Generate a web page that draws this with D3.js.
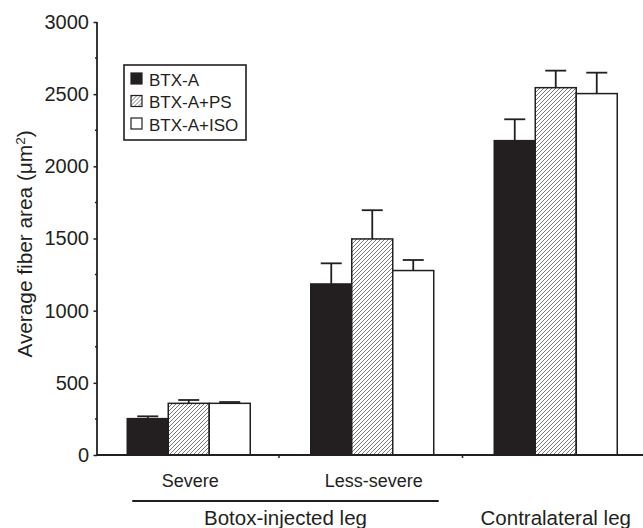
<!DOCTYPE html>
<html>
<head>
<meta charset="utf-8">
<script src="https://cdn.jsdelivr.net/npm/d3@7"></script>
<style>
  body { margin: 0; background: #fff; }
  text { font-family: "Liberation Sans", Arial, sans-serif; fill: #231f20; }
</style>
</head>
<body>
<div id="main"></div>
<script>
var groups = ["Severe", "Less-severe", "Contralateral"];
var groupLabels = ["Severe", "Less-severe", ""];
var series = ["BTX-A", "BTX-A+PS", "BTX-A+ISO"];
var means = [
  [252, 358, 358],     // Severe
  [1185, 1497, 1278],  // Less-severe
  [2178, 2545, 2504]   // Contralateral
];
var errors = [
  [16, 23, 9],
  [143, 199, 73],
  [148, 118, 145]
];
var yTicks = [0, 500, 1000, 1500, 2000, 2500, 3000];
var yMinorTicks = [250, 750, 1250, 1750, 2250, 2750];

var width = 643, height = 528;
var margin = {left: 97, top: 22, bottom: 73};
var ink = "#231f20";

var svg = d3.select("#main").append("svg")
    .attr("width", width)
    .attr("height", height);

// hatch pattern for BTX-A+PS
var defs = svg.append("defs");
var pat = defs.append("pattern")
    .attr("id", "hatch")
    .attr("patternUnits", "userSpaceOnUse")
    .attr("width", 4)
    .attr("height", 4);
pat.append("rect").attr("width", 4).attr("height", 4).attr("fill", "#fff");
pat.append("path")
    .attr("d", "M-1,1 l2,-2 M0,4 l4,-4 M3,5 l2,-2")
    .attr("stroke", "#666")
    .attr("stroke-width", 0.9);

var fills = ["#231f20", "url(#hatch)", "#fff"];

var y = d3.scaleLinear()
    .domain([0, 3000])
    .range([height - margin.bottom, margin.top]);

var x0 = d3.scaleBand()
    .domain(groups)
    .range([margin.left, margin.left + 3 * 183.5])
    .paddingInner(0)
    .paddingOuter(0);

var x1 = d3.scaleBand()
    .domain(series)
    .range([0, x0.bandwidth()])
    .paddingInner(0)
    .paddingOuter(0.738);

// bars
var g = svg.append("g");
groups.forEach(function(grp, gi) {
  series.forEach(function(s, si) {
    var xx = x0(grp) + x1(s);
    var v = means[gi][si], e = errors[gi][si];
    var cx = xx + x1.bandwidth() / 2;
    // error bar
    g.append("line")
        .attr("x1", cx).attr("x2", cx)
        .attr("y1", y(v)).attr("y2", y(v + e))
        .attr("stroke", ink).attr("stroke-width", 1.8);
    g.append("line")
        .attr("x1", cx - 10.5).attr("x2", cx + 10.5)
        .attr("y1", y(v + e)).attr("y2", y(v + e))
        .attr("stroke", ink).attr("stroke-width", 1.8);
    g.append("rect")
        .attr("x", xx)
        .attr("y", y(v))
        .attr("width", x1.bandwidth())
        .attr("height", y(0) - y(v))
        .attr("fill", fills[si])
        .attr("stroke", ink)
        .attr("stroke-width", 1.5);
  });
});

// y axis
var yAxis = svg.append("g")
    .attr("transform", "translate(" + margin.left + ",0)")
    .call(d3.axisLeft(y).tickValues(yTicks).tickSize(3.5).tickPadding(4.5).tickFormat(d3.format("d")));
yAxis.select(".domain").attr("stroke", ink).attr("stroke-width", 1.8)
    .attr("d", "M0," + y(3000) + "V" + y(0));
yAxis.selectAll(".tick line").attr("stroke", ink).attr("stroke-width", 1.5);
yAxis.selectAll(".tick text")
    .style("font-family", "'Liberation Sans', Arial, sans-serif")
    .style("font-size", "20px")
    .attr("fill", ink);
svg.append("g")
    .attr("transform", "translate(" + margin.left + ",0)")
    .selectAll("line")
    .data(yMinorTicks)
    .enter().append("line")
    .attr("x1", -2).attr("x2", 0)
    .attr("y1", function(d) { return y(d); })
    .attr("y2", function(d) { return y(d); })
    .attr("stroke", ink).attr("stroke-width", 1.5);

// x axis baseline + ticks between groups
svg.append("line")
    .attr("x1", margin.left).attr("x2", width)
    .attr("y1", y(0)).attr("y2", y(0))
    .attr("stroke", ink).attr("stroke-width", 2);
svg.selectAll(".sep")
    .data(groups.slice(1))
    .enter().append("line")
    .attr("x1", function(d) { return x0(d) - 1.5; })
    .attr("x2", function(d) { return x0(d) - 1.5; })
    .attr("y1", y(0)).attr("y2", y(0) + 3)
    .attr("stroke", ink).attr("stroke-width", 1.5);

// category labels
svg.selectAll(".cat")
    .data(groups)
    .enter().append("text")
    .attr("x", function(d) { return x0(d) + x0.bandwidth() / 2 + 1.5; })
    .attr("y", 487)
    .attr("text-anchor", "middle")
    .style("font-size", "18px")
    .text(function(d, i) { return groupLabels[i]; });

// group bracket for the injected leg
var bx1 = x0("Severe") + x1("BTX-A") + 5;
var bx2 = x0("Less-severe") + x1("BTX-A+ISO") + x1.bandwidth() + 5;
svg.append("line")
    .attr("x1", bx1).attr("x2", bx2)
    .attr("y1", 501).attr("y2", 501)
    .attr("stroke", ink).attr("stroke-width", 2.2);
svg.append("text")
    .attr("x", (bx1 + bx2) / 2)
    .attr("y", 525)
    .attr("text-anchor", "middle")
    .style("font-size", "20.5px")
    .text("Botox-injected leg");
svg.append("text")
    .attr("x", x0("Contralateral") + x0.bandwidth() / 2)
    .attr("y", 525)
    .attr("text-anchor", "middle")
    .style("font-size", "20.5px")
    .text("Contralateral leg");

// y title
var yt = svg.append("text")
    .attr("transform", "translate(32,244) rotate(-90)")
    .attr("text-anchor", "middle")
    .style("font-size", "20.8px");
yt.append("tspan").text("Average fiber area (\u03bcm");
yt.append("tspan").attr("dy", -7).style("font-size", "13.5px").text("2");
yt.append("tspan").attr("dy", 7).text(")");

// legend
var leg = svg.append("g").attr("transform", "translate(124,65)");
leg.append("rect")
    .attr("width", 122).attr("height", 75)
    .attr("fill", "#fff")
    .attr("stroke", ink).attr("stroke-width", 1.6);
var rows = leg.selectAll(".row")
    .data(series)
    .enter().append("g")
    .attr("transform", function(d, i) { return "translate(7," + (14 + i * 22.5) + ")"; });
rows.append("rect")
    .attr("x", 0).attr("y", -6)
    .attr("width", 11).attr("height", 11)
    .attr("fill", function(d, i) { return fills[i]; })
    .attr("stroke", ink).attr("stroke-width", 1.2);
rows.append("text")
    .attr("x", 18)
    .attr("y", 6.5)
    .style("font-size", "17px")
    .text(function(d) { return d; });
</script>
</body>
</html>
